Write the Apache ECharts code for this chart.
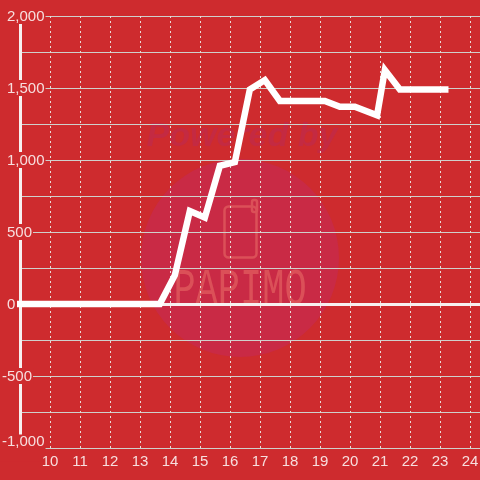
<!DOCTYPE html>
<html>
<head>
<meta charset="utf-8">
<style>
  html, body { margin: 0; padding: 0; background: #ce2b2e; }
  #chart { width: 480px; height: 480px; }
</style>
<script src="https://cdn.jsdelivr.net/npm/echarts@6/dist/echarts.min.js"></script>
</head>
<body>
<div id="chart"></div>
<script>
// x は時刻、y は差枚
const hours = [8.9, 13.66, 14.16, 14.66, 15.16, 15.66, 16.16, 16.66, 17.16, 17.66, 18.16, 18.66, 19.16, 19.66, 20.16, 20.9, 21.16, 21.66, 22.16, 22.66, 23.28]
const values = [0, 0, 200, 645, 600, 960, 985, 1490, 1555, 1410, 1410, 1410, 1410, 1370, 1370, 1310, 1625, 1490, 1490, 1490, 1490]

const BG = '#ce2b2e'
const WATERMARK = '#c92a45'
const POWERED = '#c42a42'
const LOGO = '#db5058'
const chart = echarts.init(document.getElementById('chart'))

// 目盛りラベル: 正の値は 7px、負の値は 2px から始まる
const yLabel = v => {
  if (v % 500 !== 0) return ''
  const text = v.toLocaleString('en-US')
  if (v === -1000) return `{low|${text}}`
  if (v < 0) return `{txt|${text}}`
  if (v === 0) return `{gap| }{zero|${text}}`
  return `{gap| }{txt|${text}}`
}

chart.setOption({
  backgroundColor: BG,
  animation: false,
  grid: { left: 20, right: 0, top: 16, bottom: 32, outerBoundsMode: 'none' },
  xAxis: [
    {
      type: 'value',
      position: 'bottom',
      min: 9,
      max: 24.33,
      interval: 1,
      axisLine: { show: false, onZero: false },
      axisTick: { show: false },
      splitLine: { lineStyle: { color: '#e8dcd8', type: [2, 3], width: 1 } },
      axisLabel: {
        color: '#f7dede',
        fontFamily: 'Liberation Sans',
        fontSize: 15,
        margin: 6,
        showMinLabel: false,
        showMaxLabel: false
      }
    },
    {
      // 0 のライン
      type: 'value',
      min: 9,
      max: 24.33,
      axisLine: { show: true, onZero: true, lineStyle: { color: '#f7f0f0', width: 3 } },
      axisTick: { show: false },
      axisLabel: { show: false },
      splitLine: { show: false }
    }
  ],
  yAxis: {
    type: 'value',
    min: -1000,
    max: 2000,
    interval: 250,
    axisLine: { show: true, onZero: false, lineStyle: { color: '#f7f0f0', width: 3 } },
    axisTick: { show: false },
    splitLine: { lineStyle: { color: '#cfd0cc', width: 1 } },
    axisLabel: {
      color: '#f7dede',
      fontFamily: 'Liberation Sans',
      fontSize: 15,
      align: 'left',
      margin: 20,
      formatter: yLabel,
      rich: {
        gap: { width: 5, fontSize: 15 },
        txt: { color: '#f7dede', fontSize: 15, backgroundColor: BG, padding: [1, 1, 0, 2] },
        zero: { color: '#f7dede', fontSize: 15, padding: [1, 1, 0, 2] },
        low: { color: '#f7dede', fontSize: 15, backgroundColor: BG, padding: [0, 1, 12, 2] }
      }
    }
  },
  graphic: [
    { type: 'circle', z: -1, shape: { cx: 240, cy: 258, r: 99 }, style: { fill: WATERMARK } },
    { type: 'text', z: -1, style: { x: 242, y: 137, text: 'Powered by', align: 'center', verticalAlign: 'middle', fill: POWERED, font: 'italic bold 34px "Liberation Sans"' } },
    { type: 'rect', z: -1, shape: { x: 224.5, y: 206.5, width: 32, height: 51, r: 4 }, style: { fill: 'none', stroke: LOGO, lineWidth: 2.5 } },
    { type: 'rect', z: -1, shape: { x: 252, y: 200, width: 5, height: 12, r: 2 }, style: { fill: 'none', stroke: LOGO, lineWidth: 2.5 } },
    { type: 'text', z: -1, x: 240, y: 290, scaleY: 1.4, style: { x: 0, y: 0, text: 'PAPIMO', align: 'center', verticalAlign: 'middle', fill: LOGO, font: '37px "Liberation Mono"' } }
  ],
  series: [{
    type: 'line',
    data: hours.map((h, i) => [h, values[i]]),
    showSymbol: false,
    silent: true,
    clip: false,
    lineStyle: { color: '#ffffff', width: 6.5, join: 'miter', cap: 'butt' }
  }]
})
</script>
</body>
</html>
